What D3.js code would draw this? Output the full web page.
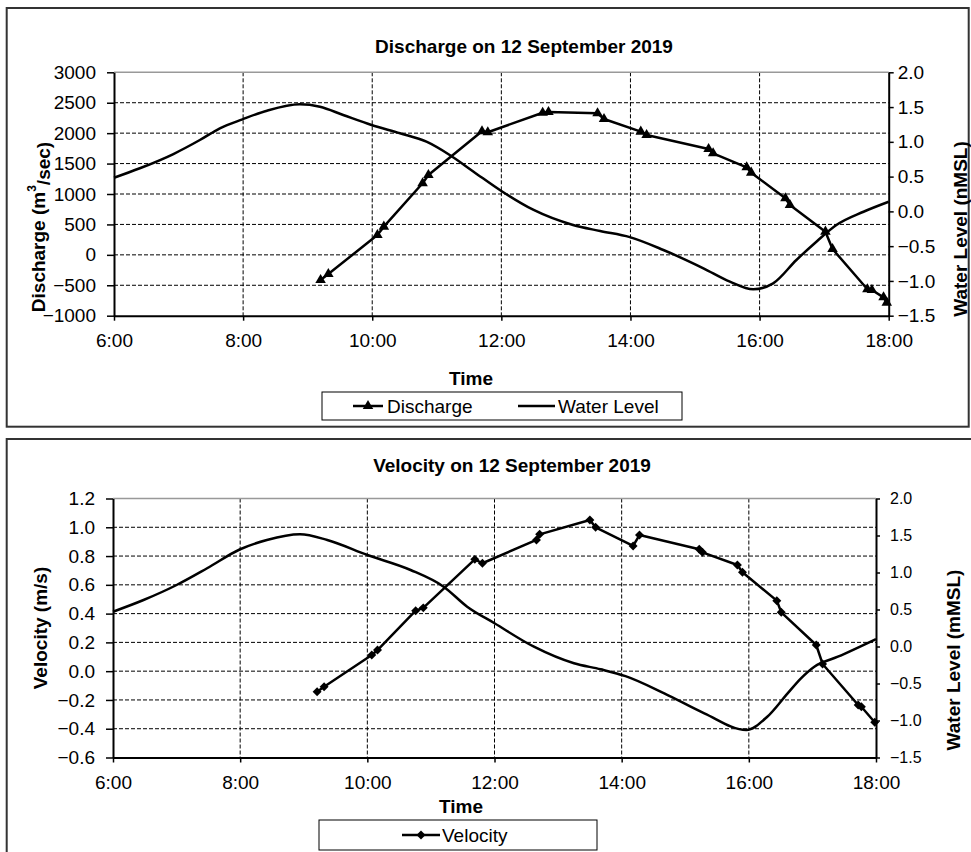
<!DOCTYPE html>
<html><head><meta charset="utf-8">
<script src="https://cdn.jsdelivr.net/npm/d3@7"></script>
<style>
html,body{margin:0;padding:0;background:#fff;}
svg{display:block;font-family:"Liberation Sans",Arial,Helvetica,sans-serif;}
</style></head><body>
<svg id="chart" width="971" height="852"></svg>
<script>
// ---------- DATA ----------
const timeTicks = [6, 8, 10, 12, 14, 16, 18];
const timeLabels = ["6:00", "8:00", "10:00", "12:00", "14:00", "16:00", "18:00"];
const dischargeTicks = [-1000, -500, 0, 500, 1000, 1500, 2000, 2500, 3000];
const waterTicks = [-1.5, -1.0, -0.5, 0.0, 0.5, 1.0, 1.5, 2.0];
const velocityTicks = [-0.6, -0.4, -0.2, 0.0, 0.2, 0.4, 0.6, 0.8, 1.0, 1.2];

// Discharge (m3/s), time in decimal hours
const dischargeTime = [9.20, 9.32, 10.08, 10.18, 10.78, 10.87, 11.70, 11.79, 12.64, 12.73, 13.49, 13.59, 14.16, 14.25, 15.21, 15.28, 15.80, 15.87, 16.40, 16.47, 17.02, 17.13, 17.67, 17.74, 17.92, 17.97];
const dischargeValue = [-413, -315, 326, 463, 1176, 1312, 2030, 2015, 2336, 2348, 2326, 2232, 2024, 1970, 1740, 1669, 1439, 1350, 929, 819, 381, 96, -566, -578, -698, -786];

// Water level (top chart)
const waterTimeA = [6.0, 6.40, 6.92, 7.33, 7.64, 7.99, 8.37, 8.88, 9.19, 9.55, 9.99, 10.43, 10.84, 11.20, 11.57, 12.0, 12.50, 13.11, 13.53, 13.99, 14.51, 15.13, 15.54, 15.90, 16.21, 16.57, 16.88, 17.19, 17.61, 18.0];
const waterLevelA = [0.484, 0.62, 0.825, 1.026, 1.195, 1.324, 1.448, 1.54, 1.505, 1.386, 1.242, 1.123, 1.002, 0.811, 0.571, 0.293, 0.02, -0.196, -0.282, -0.37, -0.555, -0.819, -1.011, -1.121, -1.035, -0.699, -0.436, -0.196, -0.005, 0.139];

// Velocity (m/s)
const velocityTime = [9.21, 9.32, 10.07, 10.16, 10.76, 10.88, 11.69, 11.81, 12.66, 12.71, 13.50, 13.59, 14.18, 14.28, 15.22, 15.27, 15.82, 15.90, 16.44, 16.51, 17.06, 17.16, 17.72, 17.77, 17.98];
const velocityValue = [-0.143, -0.108, 0.112, 0.147, 0.42, 0.44, 0.777, 0.75, 0.912, 0.951, 1.051, 1.0, 0.87, 0.946, 0.847, 0.826, 0.738, 0.687, 0.49, 0.409, 0.182, 0.05, -0.235, -0.247, -0.355];

// Water level (bottom chart)
const waterTimeB = [6.0, 6.48, 7.0, 7.48, 8.0, 8.42, 8.94, 9.37, 10.0, 10.68, 11.20, 11.57, 12.0, 12.62, 13.25, 13.67, 14.06, 14.67, 15.30, 15.96, 16.29, 16.61, 16.82, 17.03, 17.40, 18.0];
const waterLevelB = [0.47, 0.628, 0.831, 1.057, 1.314, 1.439, 1.516, 1.439, 1.236, 1.034, 0.808, 0.538, 0.314, -0.003, -0.227, -0.308, -0.40, -0.633, -0.903, -1.128, -0.949, -0.633, -0.43, -0.273, -0.138, 0.101];

// ---------- DRAW ----------
const svg = d3.select("#chart");
const FS = 19;

function panel(cfg) {
  const g = svg.append("g");
  // outer frame
  g.append("rect").attr("x", cfg.frame[0]).attr("y", cfg.frame[1])
    .attr("width", cfg.frame[2]).attr("height", cfg.frame[3])
    .attr("fill", "none").attr("stroke", "#333").attr("stroke-width", 2);

  const x = d3.scaleLinear().domain([6, 18]).range([cfg.x0, cfg.x1]);
  const yL = d3.scaleLinear().domain(cfg.leftDomain).range([cfg.y1, cfg.y0]);
  const yR = d3.scaleLinear().domain([-1.5, 2.0]).range([cfg.y1, cfg.y0]);

  // gridlines
  const grid = g.append("g");
  cfg.leftTicks.slice(1, -1).forEach(t => {
    grid.append("line").attr("x1", cfg.x0).attr("x2", cfg.x1)
      .attr("y1", yL(t)).attr("y2", yL(t))
      .attr("stroke", "#000").attr("stroke-width", 1).attr("stroke-dasharray", "4,2");
  });
  timeTicks.slice(1, -1).forEach(t => {
    grid.append("line").attr("x1", x(t)).attr("x2", x(t))
      .attr("y1", cfg.y0).attr("y2", cfg.y1)
      .attr("stroke", "#000").attr("stroke-width", 1).attr("stroke-dasharray", "4,2");
  });
  // top border of plot (gray)
  g.append("line").attr("x1", cfg.x0).attr("x2", cfg.x1).attr("y1", cfg.y0).attr("y2", cfg.y0)
    .attr("stroke", "#999").attr("stroke-width", 1.5);

  // axes
  const axL = g.append("g").attr("transform", `translate(${cfg.x0},0)`)
    .call(d3.axisLeft(yL).tickValues(cfg.leftTicks).tickSize(7).tickPadding(11)
      .tickFormat(cfg.leftFormat).tickSizeOuter(0));
  const axB = g.append("g").attr("transform", `translate(0,${cfg.y1})`)
    .call(d3.axisBottom(x).tickValues(timeTicks).tickSize(5).tickPadding(13)
      .tickFormat((d, i) => timeLabels[i]).tickSizeOuter(0));
  const axR = g.append("g").attr("transform", `translate(${cfg.x1},0)`)
    .call(d3.axisRight(yR).tickValues(waterTicks).tickSize(cfg.rTick).tickPadding(cfg.rPad)
      .tickFormat(d3.format(".1f")).tickSizeOuter(0));
  [axL, axB, axR].forEach(a => {
    a.selectAll("path.domain").attr("stroke", "#000").attr("stroke-width", 2);
    a.selectAll(".tick line").attr("stroke", "#000").attr("stroke-width", 1.5);
    a.selectAll("text").attr("fill", "#000").attr("font-size", FS)
      .attr("font-family", '"Liberation Sans",Arial,sans-serif');
  });
  axR.selectAll("text").attr("font-size", cfg.rFS);

  // water level curve
  const wl = d3.line().x(d => x(d[0])).y(d => yR(d[1])).curve(d3.curveMonotoneX);
  g.append("path").datum(cfg.waterT.map((t, i) => [t, cfg.waterV[i]]))
    .attr("d", wl).attr("fill", "none").attr("stroke", "#000").attr("stroke-width", 2.5);

  // main series
  const pts = cfg.seriesT.map((t, i) => [t, cfg.seriesV[i]]);
  const ln = d3.line().x(d => x(d[0])).y(d => yL(d[1]));
  g.append("path").datum(pts).attr("d", ln).attr("fill", "none")
    .attr("stroke", "#000").attr("stroke-width", 2.5).attr("stroke-linejoin", "round");
  g.selectAll(null).data(pts).enter().append("path")
    .attr("d", cfg.marker)
    .attr("transform", d => `translate(${x(d[0])},${yL(d[1])})${cfg.markerRot}`)
    .attr("fill", "#000");

  // titles
  g.append("text").attr("x", cfg.title[1]).attr("y", cfg.title[2]).attr("dy", "0.35em")
    .attr("text-anchor", "middle").attr("font-weight", "bold").attr("font-size", FS)
    .text(cfg.title[0]);
  g.append("text").attr("x", cfg.timeLbl[0]).attr("y", cfg.timeLbl[1]).attr("dy", "0.35em")
    .attr("text-anchor", "middle").attr("font-weight", "bold").attr("font-size", FS)
    .text("Time");
  const lt = g.append("text").attr("transform", `translate(${cfg.leftLbl[1]},${cfg.leftLbl[2]}) rotate(-90)`)
    .attr("dy", "0.35em").attr("text-anchor", "middle").attr("font-weight", "bold").attr("font-size", FS);
  cfg.leftLbl[0](lt);
  g.append("text").attr("transform", `translate(${cfg.rightLbl[1]},${cfg.rightLbl[2]}) rotate(-90)`)
    .attr("dy", "0.35em").attr("text-anchor", "middle").attr("font-weight", "bold").attr("font-size", FS)
    .text(cfg.rightLbl[0]);

  // legend
  const L = cfg.legend;
  g.append("rect").attr("x", L.box[0]).attr("y", L.box[1]).attr("width", L.box[2]).attr("height", L.box[3])
    .attr("fill", "#fff").attr("stroke", "#000").attr("stroke-width", 1);
  const cy = L.box[1] + L.box[3] / 2;
  L.items.forEach(it => {
    g.append("line").attr("x1", it.x1).attr("x2", it.x2).attr("y1", cy).attr("y2", cy)
      .attr("stroke", "#000").attr("stroke-width", 2.5);
    if (it.marker) {
      g.append("path").attr("d", cfg.marker)
        .attr("transform", `translate(${(it.x1 + it.x2) / 2},${cy})${cfg.markerRot}`).attr("fill", "#000");
    }
    g.append("text").attr("x", it.tx).attr("y", cy).attr("dy", "0.35em").attr("font-size", FS).text(it.label);
  });
}

const tri = d3.symbol().type(d3.symbolTriangle).size(48)();
const dia = d3.symbol().type(d3.symbolSquare).size(40)();

panel({
  frame: [6.7, 8, 962, 418.7],
  x0: 114, x1: 888.7, y0: 72.3, y1: 315.7,
  leftDomain: [-1000, 3000], leftTicks: dischargeTicks, leftFormat: d3.format("d"),
  rTick: 5, rPad: 4, rFS: FS,
  waterT: waterTimeA, waterV: waterLevelA,
  seriesT: dischargeTime, seriesV: dischargeValue,
  marker: tri, markerRot: "",
  title: ["Discharge  on 12 September 2019", 524, 46.7],
  timeLbl: [471, 378],
  leftLbl: [t => { t.append("tspan").text("Discharge  (m"); t.append("tspan").attr("font-size", 12).attr("dy", "-0.7em").text("3"); t.append("tspan").attr("dy", "0.7em").text("/sec)"); }, 38, 227],
  rightLbl: ["Water Level (nMSL)", 960, 229],
  legend: { box: [322, 392, 360, 28], items: [
    { x1: 353, x2: 383, marker: true, tx: 387, label: "Discharge" },
    { x1: 518, x2: 555, marker: false, tx: 558, label: "Water Level" }
  ] }
});

panel({
  frame: [6.7, 439, 970, 500],
  x0: 113, x1: 876, y0: 498.5, y1: 757.5,
  leftDomain: [-0.6, 1.2], leftTicks: velocityTicks, leftFormat: d3.format(".1f"),
  rTick: 4, rPad: 10, rFS: 16,
  waterT: waterTimeB, waterV: waterLevelB,
  seriesT: velocityTime, seriesV: velocityValue,
  marker: dia, markerRot: " rotate(45)",
  title: ["Velocity on 12 September 2019", 512, 465],
  timeLbl: [461, 806.7],
  leftLbl: [t => t.text("Velocity (m/s)"), 40, 628],
  rightLbl: ["Water Level (mMSL)", 953, 660],
  legend: { box: [319, 820, 278, 30], items: [
    { x1: 402, x2: 440, marker: true, tx: 442, label: "Velocity" }
  ] }
});
</script>
</body></html>
